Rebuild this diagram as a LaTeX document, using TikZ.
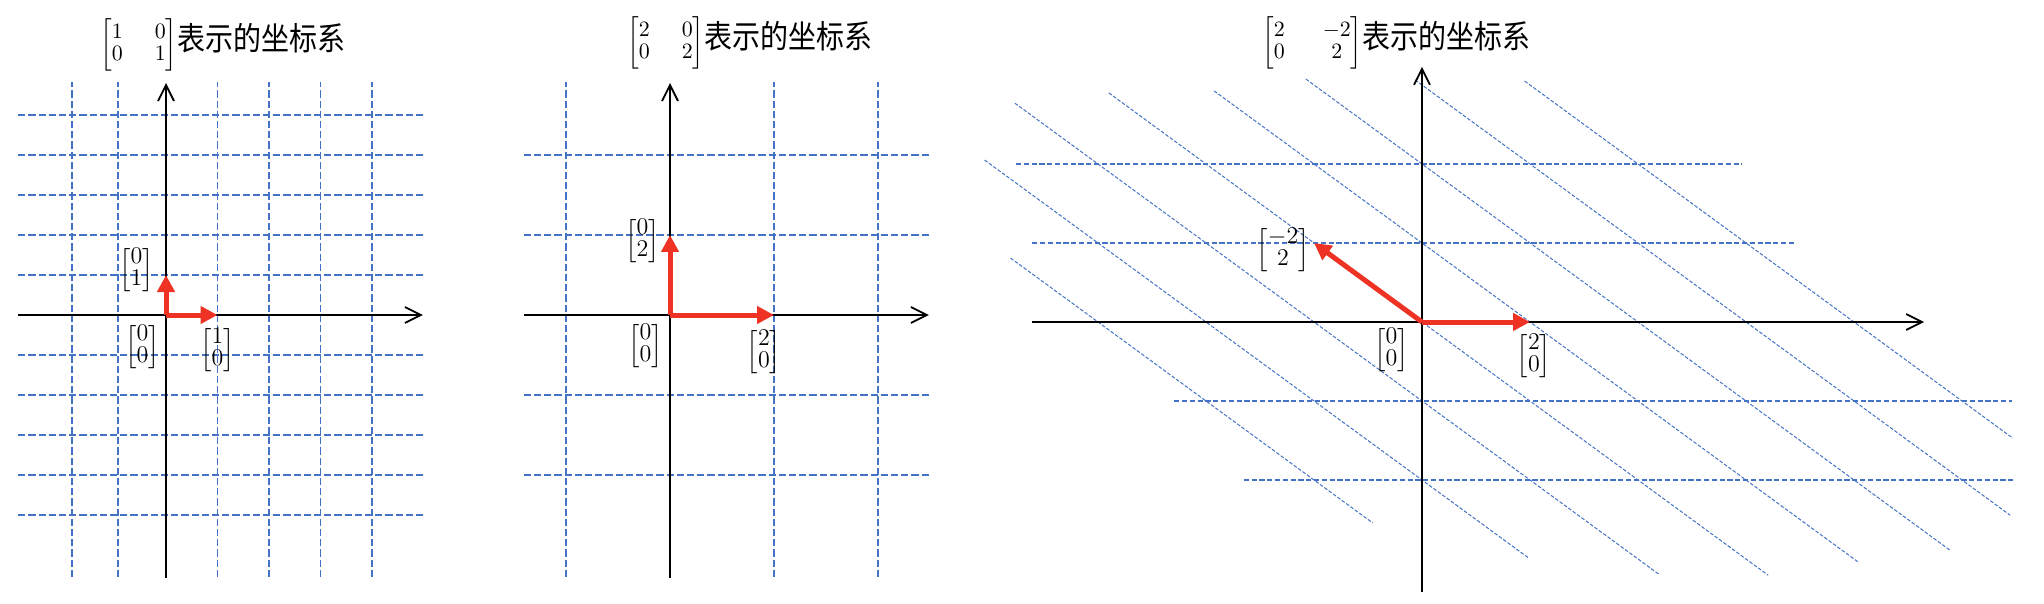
\documentclass[tikz,border=0pt]{standalone}
\usepackage{amsmath}
\usepackage{graphicx}
\usepackage{fontspec}
\newfontfamily\cjk{Noto Sans CJK SC}
\usetikzlibrary{positioning, arrows.meta}
\definecolor{gridblue}{HTML}{4472C4}
\definecolor{vecred}{HTML}{EE3224}
\newcommand{\systitle}[2][8pt]{{\fontsize{11}{13}\selectfont\renewcommand{\arraystretch}{0.85}%
  \setlength{\arraycolsep}{#1}$\begin{bmatrix}#2\end{bmatrix}$}%
  \scalebox{1}[1.15]{\cjk\fontsize{14}{16}\selectfont 表示的坐标系}}
\newcommand{\colvec}[2]{{\renewcommand{\arraystretch}{0.8}$\begin{bmatrix}#1\\#2\end{bmatrix}$}}

\begin{document}
\begin{tikzpicture}[
  x=0.5pt, y=-0.5pt,
  axisline/.style={draw=black, line width=0.9pt,
    -{Straight Barb[length=8pt,width=8pt]}},
  gridline/.style={draw=gridblue, line width=0.75pt,
    dash pattern=on 3.6pt off 1.5pt},
  flatline/.style={draw=gridblue, line width=0.6pt,
    dash pattern=on 2.6pt off 1.3pt},
  skewline/.style={draw=gridblue, line width=0.5pt,
    dash pattern=on 1.8pt off 0.9pt},
  basis/.style={draw=vecred, line width=2.5pt,
    -{Triangle[length=8.5pt,width=8.5pt]}},
  vec/.style={inner sep=0pt, font=\fontsize{12}{14}\selectfont},
  heading/.style={inner sep=0pt, anchor=west},
]
\useasboundingbox (0,0) rectangle (2044,604);

% Titles
\node[heading] (t1) at (100,45) {\systitle{1&0\\0&1}};
\node[heading] (t2) at (627,43) {\systitle{2&0\\0&2}};
\node[heading] (t3) at (1262,43) {\systitle[9.5pt]{2&-2\\0&2}};

% Identity basis
\begin{scope}[shift={(166,315)}, x=25.75pt, y=20pt]
  \foreach \gy in {-5,-4,-3,-2,-1,1,2,3,4,5}
    \draw[gridline] (-2.87,\gy) -- (4.99,\gy);
  \foreach \gx in {-1.83,-0.93,1,2,3,4}
    \draw[gridline] (\gx,-6.55) -- (\gx,5.83);
  \coordinate (o1) at (0,0);
  \coordinate (a1w) at (-2.87,0);
  \coordinate (a1e) at (4.99,0);
  \coordinate (a1s) at (0,-6.575);
  \coordinate (a1n) at (0,5.8);
  \coordinate (p1e1) at (1,0);
  \coordinate (p1e2) at (0,1);
  \draw[axisline] (a1w) -- (a1e);
  \draw[axisline] (a1s) -- (a1n);
  \draw[basis] (o1) -- (p1e1);
  \draw[basis] (o1) -- (p1e2);
  \node[vec, left=6pt of p1e2, yshift=2.5pt] (l1e2) {\colvec01};
  \node[vec, below left=4.5pt and 3pt of o1] (l1o) {\colvec00};
  \node[vec, below=6pt of p1e1] (l1e1) {\colvec10};
\end{scope}

% Scaled basis
\begin{scope}[shift={(670,315)}, x=26pt, y=20pt]
  \foreach \gy in {-4,-2,2,4}
    \draw[gridline] (-2.81,\gy) -- (5,\gy);
  \foreach \gx in {-2,2,4}
    \draw[gridline] (\gx,-6.55) -- (\gx,5.83);
  \coordinate (o2) at (0,0);
  \coordinate (a2w) at (-2.81,0);
  \coordinate (a2e) at (4.98,0);
  \coordinate (a2s) at (0,-6.575);
  \coordinate (a2n) at (0,5.8);
  \coordinate (p2e1) at (2,0);
  \coordinate (p2e2) at (0,2);
  \draw[axisline] (a2w) -- (a2e);
  \draw[axisline] (a2s) -- (a2n);
  \draw[basis] (o2) -- (p2e1);
  \draw[basis] (o2) -- (p2e2);
  \node[vec, left=5pt of p2e2, yshift=-3pt] (l2e2) {\colvec02};
  \node[vec, below left=4pt and 3.5pt of o2] (l2o) {\colvec00};
  \node[vec, below=7pt of p2e1, xshift=-5pt] (l2e1) {\colvec20};
\end{scope}

% Sheared basis
\begin{scope}[shift={(1422,322)}, x=27pt, y=19.75pt]
  \foreach \gy/\from/\to in {4/-7.52/5.93, 2/-7.22/6.91, -2/-4.59/10.93, -4/-3.30/10.96}
    \draw[flatline] (\from,\gy) -- (\to,\gy);
  \foreach \k/\top/\bot in {-3/1.62/-5.09, -2/4.10/-5.97, -1/5.54/-6.38, 0/5.80/-6.41,
                            1/5.85/-6.08, 2/6.15/-5.77, 3/6.13/-4.89, 4/6.10/-2.94}
    \draw[skewline] ({2*\k-\top},\top) -- ({2*\k-\bot},\bot);
  \coordinate (o3) at (0,0);
  \coordinate (a3w) at (-7.22,0);
  \coordinate (a3e) at (9.3,0);
  \coordinate (a3s) at (0,-6.84);
  \coordinate (a3n) at (0,6.46);
  \coordinate (p3e1) at (2,0);
  \coordinate (p3e2) at (-2,2);
  \draw[axisline] (a3w) -- (a3e);
  \draw[axisline] (a3s) -- (a3n);
  \draw[basis] (o3) -- (p3e1);
  \draw[basis] (o3) -- (p3e2);
  \node[vec, left=2pt of p3e2, yshift=-3.5pt] (l3e2) {\colvec{-2}{2}};
  \node[vec, below left=2.5pt and 6.5pt of o3] (l3o) {\colvec00};
  \node[vec, below=5.5pt of p3e1, xshift=2pt] (l3e1) {\colvec20};
\end{scope}

\end{tikzpicture}
\end{document}
